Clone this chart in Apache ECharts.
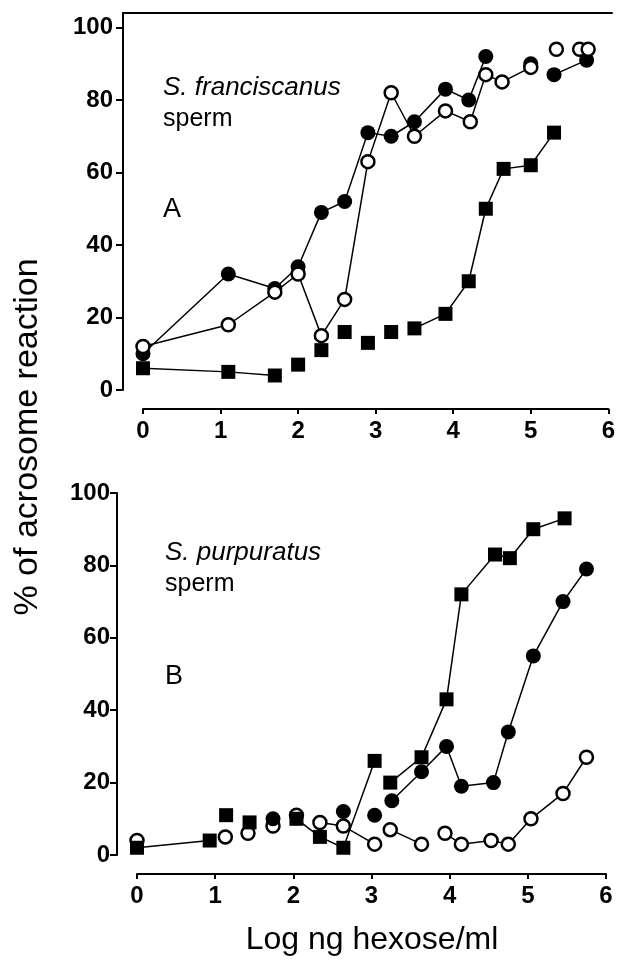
<!DOCTYPE html>
<html>
<head>
<meta charset="utf-8">
<script src="https://cdn.jsdelivr.net/npm/echarts@6/dist/echarts.min.js"></script>
<style>
  html, body { margin: 0; padding: 0; background: #fff; }
  #chart { width: 618px; height: 969px; }
</style>
</head>
<body>
<div id="chart"></div>
<script>
// panel A - S. franciscanus
const aSquareX = [0, 1.1, 1.7, 2.0, 2.3, 2.6, 2.9, 3.2, 3.5, 3.9, 4.2, 4.42, 4.65, 5.0, 5.3]
const aSquareY = [6, 5, 4, 7, 11, 16, 13, 16, 17, 21, 30, 50, 61, 62, 71]
const aFilledX = [0, 1.1, 1.7, 2.0, 2.3, 2.6, 2.9, 3.2, 3.5, 3.9, 4.2, 4.42, 5.0, 5.3, 5.72]
const aFilledY = [10, 32, 28, 34, 49, 52, 71, 70, 74, 83, 80, 92, 90, 87, 91]
const aOpenX = [0, 1.1, 1.7, 2.0, 2.3, 2.6, 2.9, 3.2, 3.5, 3.9, 4.22, 4.42, 4.63, 5.0, 5.33, 5.63, 5.74]
const aOpenY = [12, 18, 27, 32, 15, 25, 63, 82, 70, 77, 74, 87, 85, 89, 94, 94, 94]

// panel B - S. purpuratus
const bSquareX = [0, 0.93, 1.14, 1.44, 2.04, 2.34, 2.64, 3.04, 3.24, 3.64, 3.96, 4.15, 4.58, 4.77, 5.07, 5.47]
const bSquareY = [2, 4, 11, 9, 10, 5, 2, 26, 20, 27, 43, 72, 83, 82, 90, 93]
const bFilledX = [1.74, 2.64, 3.04, 3.26, 3.64, 3.96, 4.15, 4.56, 4.75, 5.07, 5.45, 5.75]
const bFilledY = [10, 12, 11, 15, 23, 30, 19, 20, 34, 55, 70, 79]
const bOpenX = [0, 1.13, 1.42, 1.74, 2.04, 2.34, 2.64, 3.04, 3.24, 3.64, 3.94, 4.15, 4.53, 4.75, 5.04, 5.45, 5.75]
const bOpenY = [4, 5, 6, 8, 11, 9, 8, 3, 7, 3, 6, 3, 4, 3, 10, 17, 27]

// no connecting line after these point indexes (as in the original figure)
const aSquareGaps = [2, 3, 4, 5, 6, 7]
const aFilledGaps = [11, 12]
const aOpenGaps = [13, 14, 15]
const bSquareGaps = [1, 2, 3, 7]
const bFilledGaps = [0, 1, 2]
const bOpenGaps = [0, 1, 2, 3, 4, 7, 9]

const yTicks = [0, 20, 40, 60, 80, 100]

const FONT = '"Liberation Sans", Arial, Helvetica, sans-serif'

function pts(xs, ys, gaps) {
  const out = []
  xs.forEach((x, i) => {
    out.push([x, ys[i]])
    if (gaps.includes(i)) out.push([x, null])
  })
  return out
}

function serie(name, xi, yi, data, kind) {
  const s = {
    name: name,
    type: 'line',
    xAxisIndex: xi,
    yAxisIndex: yi,
    data: data,
    connectNulls: false,
    showAllSymbol: true,
    lineStyle: { color: '#000', width: 1.5 },
    emphasis: { disabled: true },
  }
  if (kind === 'square') {
    s.symbol = 'rect'
    s.symbolSize = 14
    s.itemStyle = { color: '#000' }
  } else if (kind === 'filled') {
    s.symbol = 'circle'
    s.symbolSize = 15
    s.itemStyle = { color: '#000' }
  } else {
    s.symbol = 'circle'
    s.symbolSize = 13
    s.itemStyle = { color: '#fff', borderColor: '#000', borderWidth: 2.5 }
  }
  return s
}

function xAxisOf(gi) {
  return {
    type: 'value',
    gridIndex: gi,
    min: 0,
    max: 6,
    interval: 1,
    offset: 19,
    axisLine: { onZero: false, lineStyle: { color: '#000', width: 2 } },
    axisTick: { inside: false, length: 5, lineStyle: { color: '#000', width: 2 } },
    axisLabel: {
      margin: 10,
      color: '#000',
      fontFamily: FONT,
      fontWeight: 'bold',
      fontSize: 24,
    },
    splitLine: { show: false },
  }
}

function yAxisOf(gi, max, margin) {
  return {
    type: 'value',
    gridIndex: gi,
    min: 0,
    max: max,
    interval: 20,
    offset: 20,
    axisLine: { show: true, onZero: false, lineStyle: { color: '#000', width: 2 } },
    axisTick: {
      show: true,
      length: 7,
      customValues: yTicks,
      lineStyle: { color: '#000', width: 2 },
    },
    axisLabel: {
      margin: margin,
      customValues: yTicks,
      color: '#000',
      fontFamily: FONT,
      fontWeight: 'bold',
      fontSize: 24,
    },
    splitLine: { show: false },
  }
}

function label(text, x, y, size, style) {
  return {
    type: 'text',
    x: x,
    y: y,
    style: {
      text: text,
      font: (style || 'normal') + ' ' + size + 'px ' + FONT,
      fill: '#000',
      align: 'left',
      textAlign: 'left',
      verticalAlign: 'middle',
      textVerticalAlign: 'middle',
    },
  }
}

const chart = echarts.init(document.getElementById('chart'), null, { renderer: 'canvas' })

const option = {
  animation: false,
  backgroundColor: '#fff',
  grid: [
    { left: 143, top: 13, width: 469, height: 377 },
    { left: 137, top: 493, width: 469, height: 362 },
    // frame line on top of panel A
    { left: 123, top: 13, width: 489, height: 1 },
  ],
  xAxis: [
    xAxisOf(0),
    xAxisOf(1),
    {
      type: 'value',
      gridIndex: 2,
      min: 0,
      max: 1,
      position: 'top',
      axisLine: { onZero: false, lineStyle: { color: '#000', width: 2 } },
      axisTick: { show: false },
      axisLabel: { show: false },
      splitLine: { show: false },
    },
  ],
  yAxis: [
    yAxisOf(0, 104, 10),
    yAxisOf(1, 100, 7),
    { type: 'value', gridIndex: 2, show: false, min: 0, max: 1 },
  ],
  series: [
    serie('A-square', 0, 0, pts(aSquareX, aSquareY, aSquareGaps), 'square'),
    serie('A-filled', 0, 0, pts(aFilledX, aFilledY, aFilledGaps), 'filled'),
    serie('A-open', 0, 0, pts(aOpenX, aOpenY, aOpenGaps), 'open'),
    serie('B-open', 1, 1, pts(bOpenX, bOpenY, bOpenGaps), 'open'),
    serie('B-filled', 1, 1, pts(bFilledX, bFilledY, bFilledGaps), 'filled'),
    serie('B-square', 1, 1, pts(bSquareX, bSquareY, bSquareGaps), 'square'),
  ],
  graphic: [
    label('S. franciscanus', 163, 88, 26, 'italic'),
    label('sperm', 163, 119, 25),
    label('A', 163, 210, 27),
    label('S. purpuratus', 165, 553, 26, 'italic'),
    label('sperm', 165, 584, 25),
    label('B', 165, 677, 27),
    {
      type: 'text',
      x: 28,
      y: 437,
      rotation: Math.PI / 2,
      style: {
        text: '% of acrosome reaction',
        font: 'normal 34px ' + FONT,
        fill: '#000',
        align: 'center',
        textAlign: 'center',
        verticalAlign: 'middle',
        textVerticalAlign: 'middle',
      },
    },
    {
      type: 'text',
      x: 372,
      y: 940,
      style: {
        text: 'Log ng hexose/ml',
        font: 'normal 32px ' + FONT,
        fill: '#000',
        align: 'center',
        textAlign: 'center',
        verticalAlign: 'middle',
        textVerticalAlign: 'middle',
      },
    },
  ],
}

chart.setOption(option)
</script>
</body>
</html>
